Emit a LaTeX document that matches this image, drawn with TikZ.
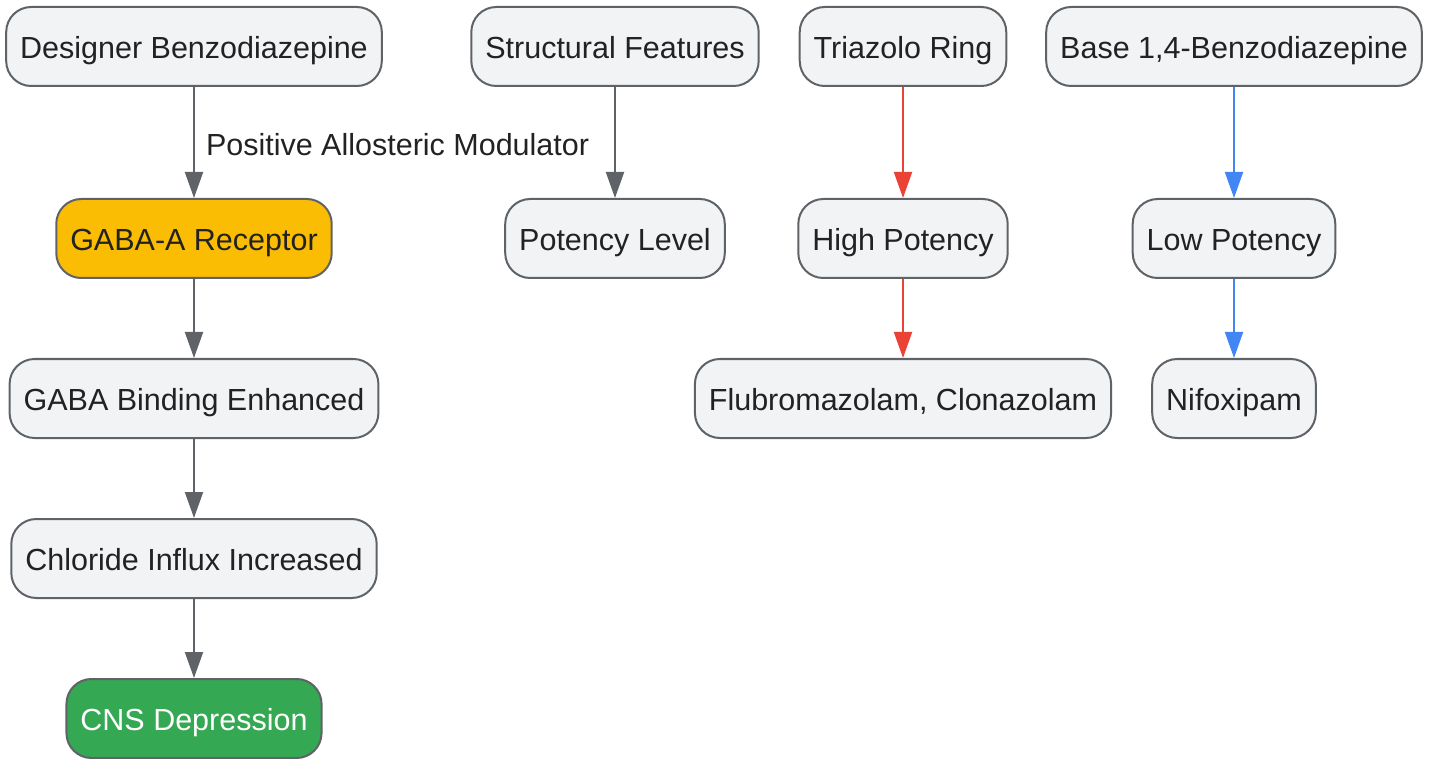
\documentclass[tikz,border=0pt]{standalone}
\usepackage{fontspec}
\setmainfont{Liberation Sans}
\usetikzlibrary{arrows.meta}
\definecolor{boxfill}{HTML}{F1F3F4}
\definecolor{boxline}{HTML}{5F6368}
\definecolor{textgray}{HTML}{222222}
\definecolor{gabafill}{HTML}{FBBC04}
\definecolor{cnsfill}{HTML}{34A853}
\definecolor{highred}{HTML}{EA4335}
\definecolor{lowblue}{HTML}{4285F4}
\begin{document}
\begin{tikzpicture}
[x=0.5pt,y=-0.5pt,
  textdecorate/.style={text=textgray,text height=15.3pt,text depth=3.5pt,
    font=\fontsize{15.25}{18}\selectfont},%
  nodedecorate/.style={shape=rectangle,rounded corners=12.5pt,draw=boxline,line width=1pt,
    fill=boxfill,textdecorate,inner xsep=7pt,minimum height=39.5pt},%
  plainbox/.style={},%
  gababox/.style={fill=gabafill},%
  cnsbox/.style={fill=cnsfill,text=white},%
  linedecorate/.style={-{Triangle[length=13pt,width=9pt]},line width=1pt,draw=boxline},%
  highdecorate/.style={linedecorate,draw=highred,fill=highred},%
  lowdecorate/.style={linedecorate,draw=lowblue,fill=lowblue}]
\useasboundingbox (0,0) rectangle (1430,759);
%% nodes or vertices
\foreach \nodename/\x/\y/\nodestyle/\nodetext in {
  designer/194/46.5/plainbox/{Designer Benzodiazepine},
  structural/615/46.5/plainbox/{Structural Features},
  triazolo/903/46.5/plainbox/{Triazolo Ring},
  base/1234/46.5/plainbox/{Base 1,4-Benzodiazepine},
  gaba/194/238.5/gababox/{GABA-A Receptor},
  potency/615/238.5/plainbox/{Potency Level},
  high/903/238.5/plainbox/{High Potency},
  low/1234/238.5/plainbox/{Low Potency},
  binding/194/398.5/plainbox/{GABA Binding Enhanced},
  flubro/903/398.5/plainbox/{Flubromazolam, Clonazolam},
  nifox/1234/398.5/plainbox/{Nifoxipam},
  chloride/194/558.5/plainbox/{Chloride Influx Increased},
  cns/194/718.5/cnsbox/{CNS Depression}} {
  \node (\nodename) at (\x,\y) [nodedecorate,\nodestyle] {\nodetext};
}
%% edges or lines
\path (designer) edge[linedecorate] node[right,textdecorate,inner sep=5.5pt,yshift=-0.5pt]
  {Positive Allosteric Modulator} (gaba);
\path
\foreach \startnode/\endnode/\linestyle in {gaba/binding/linedecorate,
  binding/chloride/linedecorate, chloride/cns/linedecorate,
  structural/potency/linedecorate, triazolo/high/highdecorate,
  high/flubro/highdecorate, base/low/lowdecorate, low/nifox/lowdecorate} {
  (\startnode) edge[\linestyle] (\endnode)
};
\end{tikzpicture}
\end{document}
